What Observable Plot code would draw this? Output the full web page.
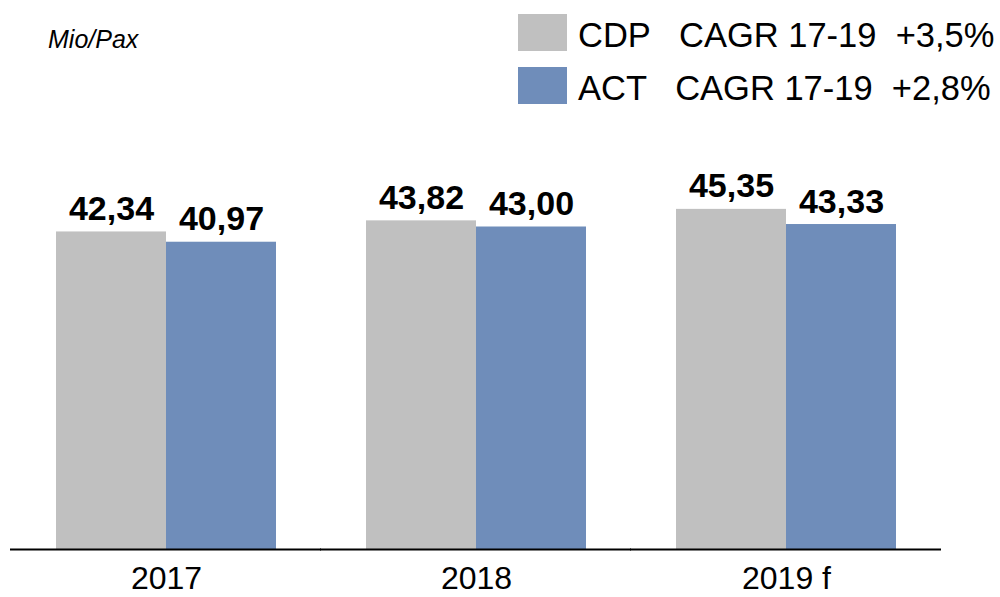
<!DOCTYPE html>
<html>
<head>
<meta charset="utf-8">
<script src="https://cdn.jsdelivr.net/npm/d3@7"></script>
<script src="https://cdn.jsdelivr.net/npm/@observablehq/plot@0.6"></script>
<style>
  html, body { margin: 0; padding: 0; background: #fff; }
  body { font-family: "Liberation Sans", Arial, sans-serif; }
  #wrap { position: relative; width: 1000px; height: 597px; overflow: hidden; }
  #chart { position: absolute; left: 0; top: 0; }
  #unit { position: absolute; left: 48px; top: 25px; font-size: 25px; font-style: italic; color: #000; }
  #legend { position: absolute; left: 518px; top: 14px; }
  .row { display: flex; align-items: center; height: 37px; margin-bottom: 16px; }
  .sw { width: 49px; height: 37px; flex: none; }
  .lab { margin-left: 11px; font-size: 34.5px; white-space: pre; color: #000; line-height: 37px; padding-top: 6px; }
</style>
</head>
<body>
<div id="wrap">
  <div id="unit">Mio/Pax</div>
  <div id="legend"></div>
  <div id="chart"></div>
</div>
<script>
const years = ["2017", "2018", "2019 f"];
const seriesNames = ["CDP", "ACT"];
const cdpValues = [42.34, 43.82, 45.35];
const actValues = [40.97, 43.00, 43.33];
const cagrLabels = ["CAGR 17-19  +3,5%", "CAGR 17-19  +2,8%"];
const colors = ["#C0C0C0", "#6F8DBA"];

const data = [];
years.forEach((y, i) => {
  data.push({year: y, series: seriesNames[0], value: cdpValues[i]});
  data.push({year: y, series: seriesNames[1], value: actValues[i]});
});

const fmt = v => v.toFixed(2).replace(".", ",");

// legend
const legend = document.getElementById("legend");
seriesNames.forEach((s, i) => {
  const row = document.createElement("div");
  row.className = "row";
  const sw = document.createElement("span");
  sw.className = "sw";
  sw.style.background = colors[i];
  const lab = document.createElement("span");
  lab.className = "lab";
  lab.textContent = s + "   " + cagrLabels[i];
  row.appendChild(sw);
  row.appendChild(lab);
  legend.appendChild(row);
});

const chart = Plot.plot({
  width: 1000,
  height: 597,
  marginTop: 174,
  marginBottom: 48,
  marginLeft: 56,
  marginRight: 104,
  style: {fontFamily: "Liberation Sans, Arial, sans-serif", fontSize: "32px", color: "#000", background: "transparent", overflow: "visible"},
  facet: {data: data, x: "year"},
  fx: {domain: years, paddingInner: 90 / 310, paddingOuter: 0, tickSize: 0, tickPadding: 17, label: null},
  x: {domain: seriesNames, padding: 0, axis: null},
  y: {domain: [0, 50], axis: null},
  color: {domain: seriesNames, range: colors},
  marks: [
    Plot.barY(data, {x: "series", y: "value", fill: "series"}),
    Plot.text(data, {x: "series", y: "value", text: d => fmt(d.value), dy: -12, lineAnchor: "bottom",
      fontSize: 34, fontWeight: "bold", fill: "#000"}),
    Plot.ruleY([0], {stroke: "#000", strokeWidth: 2, insetLeft: -46, insetRight: -45})
  ]
});
document.getElementById("chart").appendChild(chart);
</script>
</body>
</html>
